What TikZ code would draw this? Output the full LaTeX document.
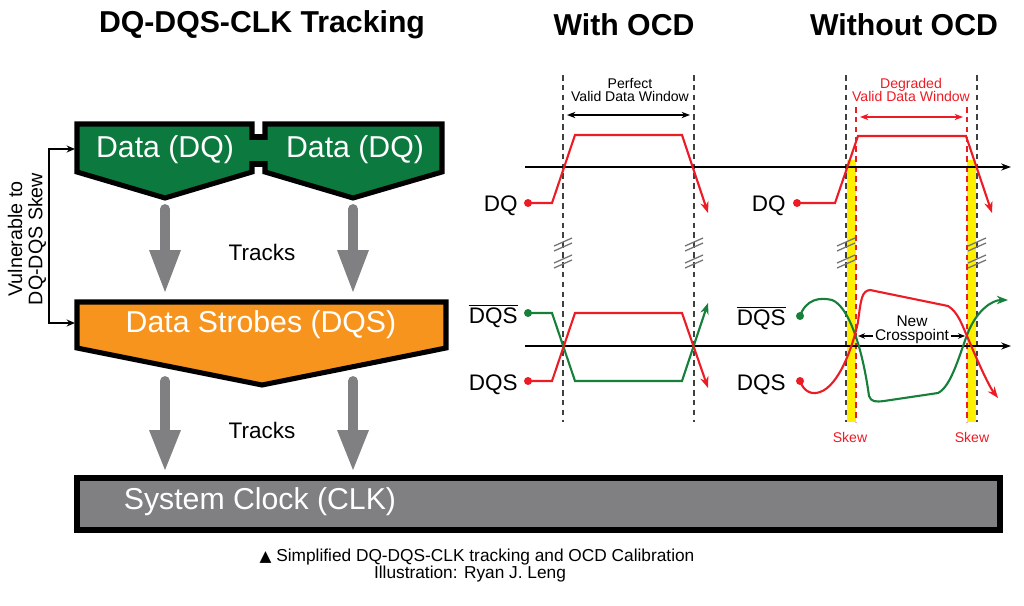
\documentclass[tikz,border=0pt]{standalone}
\usepackage{fontspec}
\setmainfont{Liberation Sans}
\newfontfamily\trifont{DejaVu Sans}
\usetikzlibrary{arrows.meta}

\definecolor{dqgreen}{RGB}{12,122,62}
\definecolor{dqsorange}{RGB}{247,148,30}
\definecolor{clkgray}{RGB}{128,128,130}
\definecolor{sigred}{RGB}{237,28,36}
\definecolor{siggreen}{RGB}{22,128,58}
\definecolor{skewyellow}{RGB}{255,240,0}

\begin{document}
\begin{tikzpicture}[x=0.025cm, y=-0.025cm,
  blk/.style={draw=black, line width=3.6pt, line join=miter},
  boxtext/.style={text=white, font=\fontsize{21.5}{24}\selectfont},
  title/.style={font=\fontsize{21.5}{24}\selectfont\bfseries},
  track/.style={font=\fontsize{16}{18}\selectfont},
  sig/.style={font=\fontsize{16}{18}\selectfont, anchor=base east, inner sep=0pt},
  small/.style={font=\fontsize{10}{9.5}\selectfont, align=center, inner sep=0pt},
  guide/.style={dash pattern=on 4pt off 3pt, line width=1.2pt},
  axis/.style={line width=1.2pt, -{Stealth[length=7pt,width=5pt]}},
  wave/.style={line width=1.5pt},
  tip/.style={-{Stealth[length=8pt,width=6pt]}},
  dot/.style={circle, inner sep=0pt, minimum size=5.7pt},
  brk/.style={black!55, line width=0.9pt}]
  \useasboundingbox (0,0) rectangle (1024,605);

  % Titles
  \node[title] (ttrack) at (262,25) {DQ-DQS-CLK Tracking};
  \node[title] (twith) at (624,25) {With OCD};
  \node[title] (twithout) at (904,25) {Without OCD};

  % Data (DQ) boxes with bridge
  \draw[blk, fill=dqgreen] (250,137) rectangle (267,164);
  \draw[blk, fill=dqgreen] (77,124) -- (252,124) -- (252,172) -- (165,198) -- (77,172) -- cycle;
  \draw[blk, fill=dqgreen] (265,124) -- (442,124) -- (442,172) -- (353,198) -- (265,172) -- cycle;
  \fill[dqgreen] (249,140) rectangle (268,161);
  \node[boxtext] (dq1) at (165,150) {Data (DQ)};
  \node[boxtext] (dq2) at (355,150) {Data (DQ)};

  % Data strobes box
  \draw[blk, fill=dqsorange] (77,302) -- (446,302) -- (446,348) -- (262,385) -- (77,348) -- cycle;
  \node[boxtext] (dqs) at (261,325) {Data Strobes (DQS)};

  % System clock bar
  \draw[blk, fill=clkgray] (77,478) rectangle (1000,530);
  \node[boxtext] (clk) at (260,502) {System Clock (CLK)};

  % Tracks arrows
  \foreach \x in {165,353} {
    \draw[clkgray, line width=7pt, line cap=round] (\x,209) -- (\x,252);
    \fill[clkgray] (\x-16,250) -- (\x+16,250) -- (\x,292) -- cycle;
    \draw[clkgray, line width=7pt, line cap=round] (\x,381) -- (\x,432);
    \fill[clkgray] (\x-16,430) -- (\x+16,430) -- (\x,470) -- cycle;
  }
  \node[track] (trk1) at (262,252) {Tracks};
  \node[track] (trk2) at (262,430) {Tracks};

  % Skew bracket
  \coordinate (dqin) at (75,149);
  \coordinate (dqsin) at (75,323);
  \draw[line width=1.2pt, {Stealth[length=6pt,width=5pt]}-{Stealth[length=6pt,width=5pt]}]
    (dqin) -- (49,149) -- (49,323) -- (dqsin);
  \node[rotate=90, align=center, font=\fontsize{14}{14.5}\selectfont] (vuln) at (27,239)
    {Vulnerable to\\DQ-DQS Skew};

  % Skew bands
  \fill[skewyellow] (847,160) rectangle (856,422);
  \fill[skewyellow] (967,160) rectangle (976,422);

  % Sampling guides
  \foreach \gx in {563,694,846,977}
    \draw[guide, black!75] (\gx,75) -- (\gx,422);
  \foreach \gx in {856,967}
    \draw[guide, sigred] (\gx,107) -- (\gx,422);

  % Break marks
  \foreach \bx in {563,694,846,977}
    \foreach \by in {243,260} {
      \draw[brk] (\bx-9,\by+3) -- (\bx+9,\by-5);
      \draw[brk] (\bx-9,\by+8) -- (\bx+9,\by);
    }

  % Window labels
  \node[small] (perf) at (630,90) {Perfect\\Valid Data Window};
  \coordinate (pwl) at (567,115);
  \coordinate (pwr) at (690,115);
  \draw[line width=0.9pt, {Stealth[length=6pt,width=4.5pt]}-{Stealth[length=6pt,width=4.5pt]}] (pwl) -- (pwr);
  \node[small, text=sigred] (degr) at (911,90) {Degraded\\Valid Data Window};
  \coordinate (dwl) at (860,117);
  \coordinate (dwr) at (963,117);
  \draw[sigred, line width=0.9pt, {Stealth[length=6pt,width=4.5pt]}-{Stealth[length=6pt,width=4.5pt]}] (dwl) -- (dwr);

  % Axes
  \draw[axis] (525,167) -- (1011,167);
  \draw[axis] (525,346) -- (1011,346);

  % With OCD signals
  \node[sig] (ldq1) at (518,211) {DQ};
  \node[sig] (ldqsb1) at (518,323) {$\overline{\mbox{DQS}}$};
  \node[sig] (ldqs1) at (518,390) {DQS};
  \node[dot, fill=sigred] (dq1s) at (528,203) {};
  \node[dot, fill=siggreen] (dqsb1s) at (528,313) {};
  \node[dot, fill=sigred] (dqs1s) at (528,381) {};
  \draw[wave, sigred, tip] (dq1s.center) -- (552,203) -- (575,135) -- (682,135) -- (708,213);
  \draw[wave, siggreen, tip] (dqsb1s.center) -- (552,313) -- (575,381) -- (682,381) -- (708,303);
  \draw[wave, sigred, tip] (dqs1s.center) -- (552,381) -- (575,313) -- (682,313) -- (708,388);

  % Without OCD signals
  \node[sig] (ldq2) at (786,211) {DQ};
  \node[sig] (ldqsb2) at (786,325) {$\overline{\mbox{DQS}}$};
  \node[sig] (ldqs2) at (786,390) {DQS};
  \node[dot, fill=sigred] (dq2s) at (797,203) {};
  \node[dot, fill=siggreen] (dqsb2s) at (800,316) {};
  \node[dot, fill=sigred] (dqs2s) at (800,381) {};
  \draw[wave, sigred, tip] (dq2s.center) -- (835,203) -- (858,136) -- (966,136) -- (992,213);
  \draw[wave, siggreen, tip] (dqsb2s.center) .. controls (806,299) and (820,297) .. (832,300)
    .. controls (848,306) and (862,345) .. (869,396) .. controls (871,402) and (876,402) .. (884,401)
    -- (938,393) .. controls (952,386) and (960,352) .. (969,330)
    .. controls (978,310) and (992,300) .. (1008,300);
  \draw[wave, sigred, tip] (dqs2s.center) .. controls (804,392) and (812,395) .. (820,392)
    .. controls (838,386) and (852,350) .. (858,322) .. controls (861,298) and (862,291) .. (870,290)
    -- (948,306) .. controls (958,312) and (962,325) .. (967,336)
    .. controls (975,355) and (988,385) .. (998,398);

  % Crosspoint and skew labels
  \node[font=\fontsize{11}{12}\selectfont, inner sep=1pt] (cross) at (912,336) {Crosspoint};
  \node[font=\fontsize{11}{12}\selectfont, inner sep=0pt] (newpt) at (912,321) {New};
  \draw[line width=0.9pt, -{Stealth[length=5pt,width=4pt]}] (cross.west) -- (858,336);
  \draw[line width=0.9pt, -{Stealth[length=5pt,width=4pt]}] (cross.east) -- (965,336);
  \node[small, text=sigred] (skew1) at (850,437) {Skew};
  \node[small, text=sigred] (skew2) at (972,437) {Skew};

  % Caption
  \node[font=\fontsize{12.3}{13}\selectfont] (cap1) at (477,557)
    {{\trifont\fontsize{11}{12}\selectfont ▲} Simplified DQ-DQS-CLK tracking and OCD Calibration};
  \node[font=\fontsize{12.3}{13}\selectfont] (cap2) at (470,574) {Illustration: Ryan J. Leng};
\end{tikzpicture}
\end{document}
